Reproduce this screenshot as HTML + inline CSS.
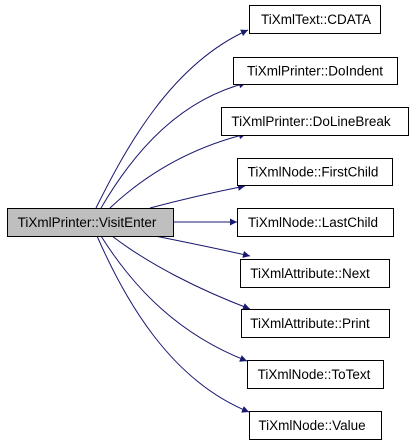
<!DOCTYPE html>
<html><head><meta charset="utf-8"><style>
html,body{margin:0;padding:0;background:#fff;}
svg{display:block;}
text{font-family:"Liberation Sans",Arial,sans-serif;font-size:13.5px;fill:#000;}
</style></head><body>
<svg width="413" height="443" viewBox="0 0 413 443" xmlns="http://www.w3.org/2000/svg">
<defs><marker id="a" viewBox="0 0 10 10" refX="10" refY="5" markerWidth="10" markerHeight="7" markerUnits="userSpaceOnUse" orient="auto"><path d="M0,0 L10,5 L0,10 z" fill="#191970"/></marker></defs>
<g fill="none" stroke="#191970" stroke-width="1" marker-end="url(#a)">
<path d="M96,208 C125,150 170,65 248,30"/>
<path d="M101,208 C135,150 180,100 246,83"/>
<path d="M110,208 C145,175 190,148 246,134"/>
<path d="M150,208 C180,200 210,193 245,186"/>
<path d="M173,222 L237,222"/>
<path d="M155,236 C185,242 215,248 250,256"/>
<path d="M112,236 C150,265 200,290 250,309"/>
<path d="M101,236 C135,290 180,335 247,361"/>
<path d="M97,236 C125,300 170,380 249,412"/>
</g>
<g stroke="#000" stroke-width="1">
<rect x="7.5" y="208.5" width="166" height="28" fill="#bfbfbf"/>
<rect x="249.5" y="5.5" width="131" height="28" fill="#fff"/>
<rect x="233.5" y="57.5" width="164" height="27" fill="#fff"/>
<rect x="221.5" y="107.5" width="187" height="28" fill="#fff"/>
<rect x="237.5" y="158.5" width="155" height="27" fill="#fff"/>
<rect x="237.5" y="208.5" width="156" height="28" fill="#fff"/>
<rect x="240.5" y="259.5" width="149" height="28" fill="#fff"/>
<rect x="241.5" y="309.5" width="148" height="28" fill="#fff"/>
<rect x="247.5" y="360.5" width="136" height="28" fill="#fff"/>
<rect x="249.5" y="411.5" width="132" height="28" fill="#fff"/>
</g>
<g text-anchor="middle">
<text x="87" y="227">TiXmlPrinter::VisitEnter</text>
<text x="316" y="24">TiXmlText::CDATA</text>
<text x="315" y="75.5">TiXmlPrinter::DoIndent</text>
<text x="311" y="126">TiXmlPrinter::DoLineBreak</text>
<text x="313" y="176.5">TiXmlNode::FirstChild</text>
<text x="313" y="227">TiXmlNode::LastChild</text>
<text x="310" y="278">TiXmlAttribute::Next</text>
<text x="310" y="328">TiXmlAttribute::Print</text>
<text x="314" y="379">TiXmlNode::ToText</text>
<text x="312" y="430">TiXmlNode::Value</text>
</g>
</svg>
</body></html>
